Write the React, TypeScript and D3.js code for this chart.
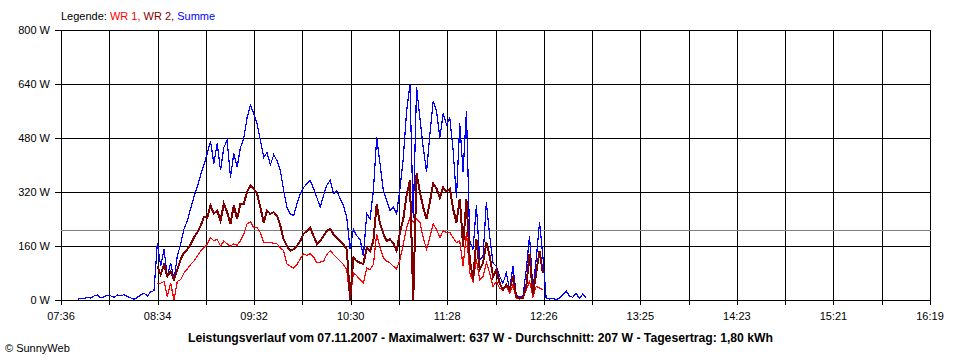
import React from 'react';
import * as d3 from 'd3';

// Tagesverlauf 07.11.2007, Werte in W, Abtastung alle 2 Minuten
const dayStart = '07:36';
const dayEnd = '16:19';
const gridDivisions = 18;
const yTicks = [0, 160, 320, 480, 640, 800];
const xTickLabels = ['07:36', '08:34', '09:32', '10:30', '11:28', '12:26', '13:25', '14:23', '15:21', '16:19'];
const averageW = 207;
const stepMin = 2;

const summeStart = '07:46';
const summeValues = [
  2, 5, 4, 8, 6, 12, 15, 6, 10, 14, 12, 8, 15, 12, 16, 10, 6, 2, 8, 15, 20, 12, 24, 28,
  170, 100, 150, 70, 110, 60, 130, 165, 210, 235, 270, 305, 335, 370, 400, 434, 470, 404, 464, 384,
  452, 473, 363, 434, 393, 452, 479, 541, 577, 553, 523, 473, 423, 437, 400, 430, 413, 384, 324, 274,
  255, 250, 285, 315, 333, 345, 354, 330, 303, 275, 310, 340, 355, 315, 324, 300, 280, 244, 150, 210,
  190, 180, 130, 256, 240, 324, 482, 404, 324, 294, 265, 275, 256, 330, 420, 560, 637, 244, 630, 540,
  452, 380, 490, 590, 560, 480, 553, 520, 540, 443, 303, 523, 380, 560, 175, 150, 280, 120, 130, 290,
  190, 110, 100, 70, 50, 80, 30, 100, 15, 8, 10, 90, 190, 30, 120, 230, 130,
  5, 3, 4, 2, 5, 15, 27, 12, 8, 20, 5, 18, 8,
];

const wrStart = '08:34';
const wr1Values = [
  50, 50, 55, 10, 50, 0, 55, 60, 80, 92, 105, 115, 130, 145, 155, 166, 185, 175, 180, 160,
  175, 166, 160, 166, 162, 175, 196, 226, 232, 214, 214, 200, 170, 170, 170, 168, 166, 155, 146, 107,
  100, 95, 105, 122, 137, 132, 137, 128, 110, 112, 115, 135, 146, 135, 125, 115, 105, 90, 0, 80,
  72, 60, 50, 95, 90, 105, 196, 155, 125, 115, 110, 100, 92, 120, 165, 215, 244, 230, 240, 230,
  185, 150, 185, 225, 210, 185, 205, 200, 200, 185, 170, 175, 100, 200, 80, 55, 120, 60, 70, 110,
  80, 40, 55, 35, 30, 40, 20, 45, 5, 3, 4, 30, 56, 10, 40, 36, 30,
];
const wr2Values = [
  100, 75, 105, 70, 85, 60, 90, 120, 140, 150, 165, 185, 200, 220, 245, 244, 280, 256, 265, 235,
  285, 260, 226, 280, 240, 285, 285, 320, 339, 330, 315, 274, 230, 265, 255, 260, 250, 220, 180, 160,
  146, 150, 160, 175, 196, 205, 214, 190, 166, 175, 190, 205, 210, 195, 185, 175, 165, 150, 0, 125,
  115, 110, 107, 155, 145, 175, 285, 226, 196, 175, 180, 168, 146, 200, 240, 310, 354, 0, 375, 320,
  274, 240, 290, 345, 330, 303, 333, 320, 330, 270, 230, 300, 160, 300, 120, 60, 180, 90, 110, 170,
  130, 70, 90, 50, 30, 45, 30, 70, 10, 5, 5, 40, 137, 15, 80, 146, 80,
];

const toMin = (s: string) => {
  const [h, m] = s.split(':').map(Number);
  return h * 60 + m;
};

const font = '"Liberation Sans", Arial, sans-serif';

export default function App() {
  const t0 = toMin(dayStart);
  const t1 = toMin(dayEnd);
  const x = d3.scaleLinear().domain([t0, t1]).range([61, 930]);
  const y = d3.scaleLinear().domain([0, 800]).range([300, 30]);
  const px = (v: number) => Math.round(v) + 0.5;

  const gridTimes = d3.range(gridDivisions + 1).map((i) => t0 + (i * (t1 - t0)) / gridDivisions);
  const labelTimes = xTickLabels.map((_, i) => t0 + (i * (t1 - t0)) / (xTickLabels.length - 1));

  const makePath = (values: number[], start: string) =>
    d3
      .line<number>()
      .x((_, i) => x(toMin(start) + i * stepMin))
      .y((d) => y(d))(values) || '';

  // Reihenfolge: Summe unten, WR 1, dann WR 2 oben
  const series = [
    { values: summeValues, start: summeStart, color: '#0000ff', width: 1.2 },
    { values: wr1Values, start: wrStart, color: '#ff0000', width: 1.2 },
    { values: wr2Values, start: wrStart, color: '#800000', width: 2 },
  ];

  return (
    <svg
      width={960}
      height={360}
      style={{ position: 'absolute', left: 0, top: 0, background: '#fff' }}
      fontFamily={font}
      fontSize={11}
    >
      <rect width={960} height={360} fill="#fff" />
      <text x={61} y={20}>
        <tspan fill="#000">Legende: </tspan>
        <tspan fill="#ff0000">WR 1, </tspan>
        <tspan fill="#800000">WR 2, </tspan>
        <tspan fill="#0000ff">Summe</tspan>
      </text>

      <g shapeRendering="crispEdges" stroke="#000" strokeWidth={1}>
        {gridTimes.map((t, i) => (
          <line key={'v' + i} x1={px(x(t))} x2={px(x(t))} y1={30} y2={305} />
        ))}
        {yTicks.map((v) => (
          <line key={'h' + v} x1={55} x2={px(x(t1))} y1={px(y(v))} y2={px(y(v))} />
        ))}
        <line x1={61} x2={px(x(t1))} y1={px(y(averageW))} y2={px(y(averageW))} stroke="#808080" />
      </g>

      {yTicks.map((v) => (
        <text key={'yl' + v} x={50} y={y(v) + 4} textAnchor="end" fill="#000">
          {v} W
        </text>
      ))}
      {xTickLabels.map((lab, i) => (
        <text key={'xl' + i} x={x(labelTimes[i])} y={320} textAnchor="middle" fill="#000">
          {lab}
        </text>
      ))}

      {series.map((s, i) => (
        <path
          key={'s' + i}
          d={makePath(s.values, s.start)}
          fill="none"
          stroke={s.color}
          strokeWidth={s.width}
          strokeLinejoin="miter"
          shapeRendering="crispEdges"
        />
      ))}

      <text
        x={188}
        y={342}
        fontWeight="bold"
        fontSize={12}
        textLength={585}
        lengthAdjust="spacingAndGlyphs"
        fill="#000"
      >
        Leistungsverlauf vom 07.11.2007 - Maximalwert: 637 W - Durchschnitt: 207 W - Tagesertrag: 1,80 kWh
      </text>
      <text x={5} y={352} fill="#000">
        © SunnyWeb
      </text>
    </svg>
  );
}
